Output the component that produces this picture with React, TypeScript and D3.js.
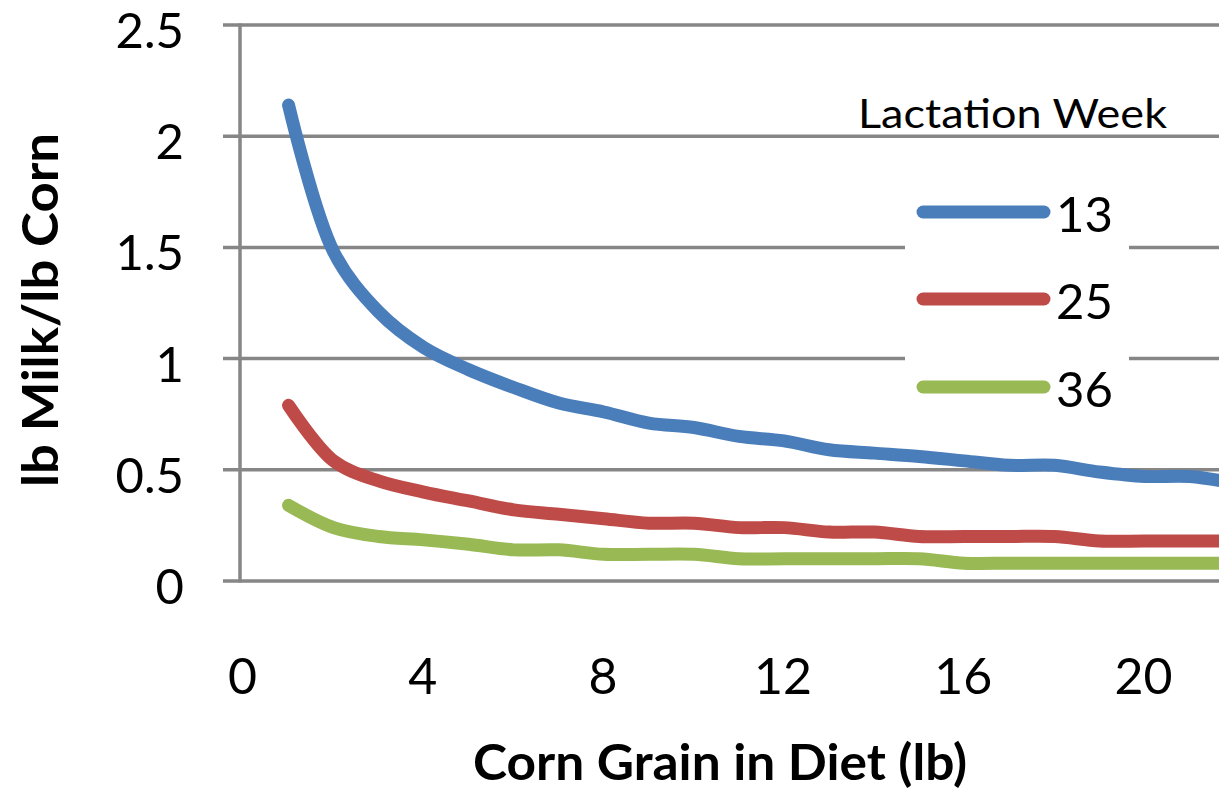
import { useRef, useEffect } from 'react';
import * as d3 from 'd3';

const cornLb = [1, 2, 3, 4, 5, 6, 7, 8, 9, 10, 11, 12, 13, 14, 15, 16, 17, 18, 19, 20, 21, 22];
const week13 = [2.14, 1.48, 1.21, 1.05, 0.95, 0.87, 0.8, 0.76, 0.71, 0.69, 0.65, 0.63, 0.59, 0.575, 0.56, 0.54, 0.52, 0.52, 0.49, 0.47, 0.47, 0.44];
const week25 = [0.79, 0.54, 0.45, 0.4, 0.36, 0.32, 0.3, 0.28, 0.26, 0.26, 0.24, 0.24, 0.22, 0.22, 0.2, 0.2, 0.2, 0.2, 0.18, 0.18, 0.18, 0.18];
const week36 = [0.34, 0.24, 0.2, 0.185, 0.165, 0.14, 0.14, 0.12, 0.12, 0.12, 0.1, 0.1, 0.1, 0.1, 0.1, 0.08, 0.08, 0.08, 0.08, 0.08, 0.08, 0.08];
const seriesNames = ['13', '25', '36'];
const seriesColors = ['#4A7EBB', '#BE4B48', '#98B954'];
const yTicks = [0, 0.5, 1, 1.5, 2, 2.5];
const xTicks = [0, 4, 8, 12, 16, 20];

function App() {
    const ref = useRef<SVGSVGElement>(null);

    useEffect(() => {
        d3.select(ref.current).selectAll('*').remove();
        const svg = d3.select(ref.current);
        const font = 'Lato, Carlito, "Open Sans", sans-serif';
        const grid = '#868686';

        const x = d3.scaleLinear().domain([0, 24]).range([243.5, 243.5 + 24 * 45.05]);
        const y = d3.scaleLinear().domain([0, 2.5]).range([581, 25]);

        // gridlines (extend left as tick marks)
        svg.append('g')
            .selectAll('line')
            .data(yTicks)
            .enter().append('line')
            .attr('x1', 223).attr('x2', 1219)
            .attr('y1', d => y(d)).attr('y2', d => y(d))
            .attr('stroke', grid).attr('stroke-width', 3.5);

        // y axis line
        svg.append('line')
            .attr('x1', 240).attr('x2', 240)
            .attr('y1', y(2.5) - 1.5).attr('y2', y(0) + 1.5)
            .attr('stroke', grid).attr('stroke-width', 3.5);

        svg.append('g')
            .selectAll('text')
            .data(yTicks)
            .enter().append('text')
            .attr('x', 184).attr('y', d => y(d) + 23)
            .attr('text-anchor', 'end')
            .attr('font-family', font).attr('font-size', 49)
            .text(d => String(d));

        svg.append('g')
            .selectAll('text')
            .data(xTicks)
            .enter().append('text')
            .attr('x', d => x(d) - 1).attr('y', 694)
            .attr('text-anchor', 'middle')
            .attr('font-family', font).attr('font-size', 50)
            .text(d => String(d));

        const series = [week13, week25, week36];
        const line = d3.line<number>()
            .x((_, i) => x(cornLb[i]))
            .y(d => y(d))
            .curve(d3.curveCatmullRom.alpha(0.5));

        series.forEach((vals, k) => {
            svg.append('path')
                .datum(vals)
                .attr('d', line)
                .attr('fill', 'none')
                .attr('stroke', seriesColors[k])
                .attr('stroke-width', 13)
                .attr('stroke-linecap', 'round')
                .attr('stroke-linejoin', 'round');
        });

        // legend
        svg.append('rect')
            .attr('x', 905).attr('y', 175).attr('width', 224).attr('height', 245)
            .attr('fill', '#fff');
        svg.append('text')
            .attr('x', 858).attr('y', 128)
            .attr('font-family', font).attr('font-size', 41)
            .attr('textLength', 309).attr('lengthAdjust', 'spacingAndGlyphs')
            .text('Lactation Week');
        const legendY = [212, 299, 387];
        seriesNames.forEach((name, k) => {
            svg.append('line')
                .attr('x1', 923).attr('x2', 1044)
                .attr('y1', legendY[k]).attr('y2', legendY[k])
                .attr('stroke', seriesColors[k]).attr('stroke-width', 13)
                .attr('stroke-linecap', 'round');
            svg.append('text')
                .attr('x', 1056).attr('y', legendY[k] + 20)
                .attr('font-family', font).attr('font-size', 49)
                .text(name);
        });

        // axis titles
        svg.append('text')
            .attr('x', 720).attr('y', 780)
            .attr('text-anchor', 'middle')
            .attr('font-family', font).attr('font-size', 50).attr('font-weight', 'bold')
            .attr('textLength', 494).attr('lengthAdjust', 'spacingAndGlyphs')
            .text('Corn Grain in Diet (lb)');
        svg.append('text')
            .attr('transform', 'translate(58,310) rotate(-90)')
            .attr('text-anchor', 'middle')
            .attr('font-family', font).attr('font-size', 50).attr('font-weight', 'bold')
            .attr('textLength', 354).attr('lengthAdjust', 'spacingAndGlyphs')
            .text('lb Milk/lb Corn');
    }, []);

    return (
        <svg ref={ref} width={1219} height={790}
            style={{ position: 'absolute', left: 0, top: 0, background: '#fff' }} />
    );
}

export default App;
